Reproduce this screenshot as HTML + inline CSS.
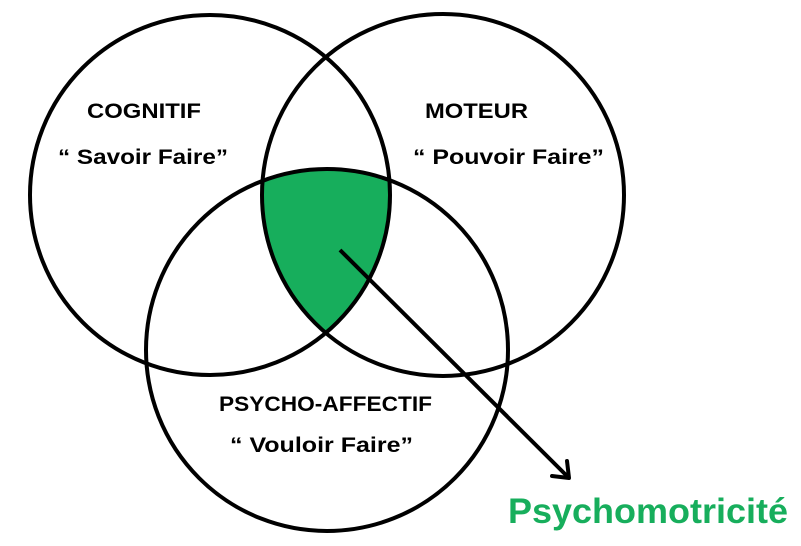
<!DOCTYPE html>
<html><head><meta charset="utf-8"><style>
html,body{margin:0;padding:0;background:#fff;}
svg{display:block;}
text{font-family:"Liberation Sans",sans-serif;font-weight:bold;}
</style></head><body>
<svg width="801" height="546" viewBox="0 0 801 546" xmlns="http://www.w3.org/2000/svg">
<defs>
<clipPath id="c1"><circle cx="210" cy="195" r="180"/></clipPath>
<clipPath id="c2"><circle cx="443" cy="195" r="181"/></clipPath>
</defs>
<g clip-path="url(#c1)"><g clip-path="url(#c2)"><circle cx="327" cy="350" r="181" fill="#17ae5c"/></g></g>
<g fill="none" stroke="#000" stroke-width="4">
<circle cx="210" cy="195" r="180"/>
<circle cx="443" cy="195" r="181"/>
<circle cx="327" cy="350" r="181"/>
</g>
<line x1="340" y1="250" x2="568" y2="477" stroke="#000" stroke-width="4"/>
<polyline points="552,476 569,478 567,461" fill="none" stroke="#000" stroke-width="4" stroke-linecap="round" stroke-linejoin="round"/>
<g font-size="21" fill="#000">
<text x="87" y="118" textLength="114" lengthAdjust="spacingAndGlyphs">COGNITIF</text>
<text x="58" y="164" textLength="170" lengthAdjust="spacingAndGlyphs">“ Savoir Faire”</text>
<text x="425" y="118" textLength="103" lengthAdjust="spacingAndGlyphs">MOTEUR</text>
<text x="413" y="164" textLength="191" lengthAdjust="spacingAndGlyphs">“ Pouvoir Faire”</text>
<text x="219" y="411" textLength="213" lengthAdjust="spacingAndGlyphs">PSYCHO-AFFECTIF</text>
<text x="230" y="452" textLength="183" lengthAdjust="spacingAndGlyphs">“ Vouloir Faire”</text>
</g>
<text x="508" y="523" font-size="35" fill="#17ae5c" textLength="280" lengthAdjust="spacingAndGlyphs">Psychomotricité</text>
</svg>
</body></html>
